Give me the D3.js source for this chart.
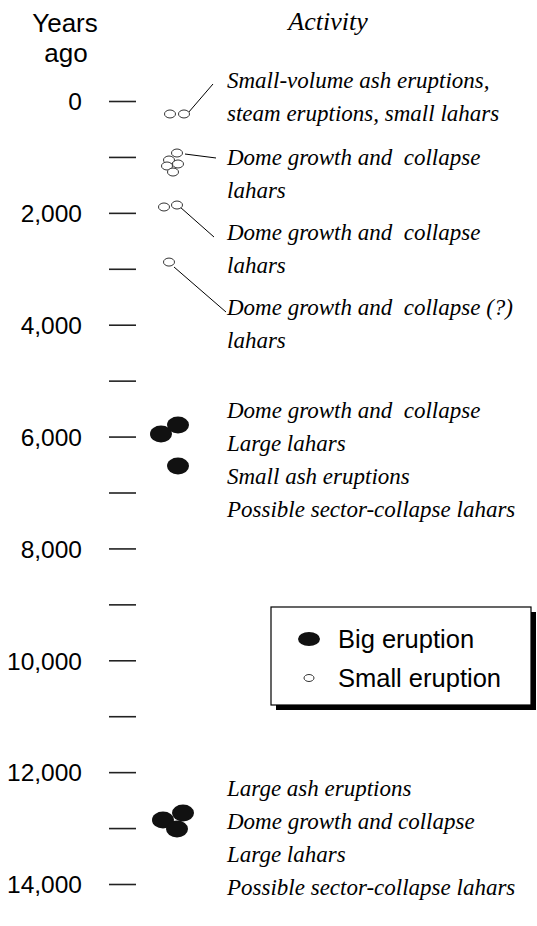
<!DOCTYPE html>
<html>
<head>
<meta charset="utf-8">
<script src="https://cdn.jsdelivr.net/npm/d3@7"></script>
<style>
  body { margin: 0; background: #fff; }
  .sans { font-family: "Liberation Sans", Arial, sans-serif; }
  .serif { font-family: "Liberation Serif", "DejaVu Serif", serif; font-style: italic; }
</style>
</head>
<body>
<svg id="chart"></svg>
<script>
// axis ticks (years ago)
const tickYears = d3.range(0, 14001, 1000);
const labelYears = [0, 2000, 4000, 6000, 8000, 10000, 12000, 14000];

// eruptions: years ago and lane within the cluster
const smallYears = [232, 232, 930, 1055, 1126, 1162, 1270, 1895, 1860, 2880];
const smallLanes = [10, 24, 17, 9, 18, 7, 13, 4, 17, 9];
const bigYears = [5954, 5793, 6526, 12855, 12730, 13016];
const bigLanes = [1, 18, 18, 3, 23, 17];

// activity notes: anchor year of first line + lines
const noteYears = [-232, 1144, 2485, 3826, 5668, 12426];
const noteLines = [
    ["Small-volume ash eruptions,", "steam eruptions, small lahars"],
    ["Dome growth and  collapse", "lahars"],
    ["Dome growth and  collapse", "lahars"],
    ["Dome growth and  collapse (?)", "lahars"],
    ["Dome growth and  collapse", "Large lahars", "Small ash eruptions", "Possible sector-collapse lahars"],
    ["Large ash eruptions", "Dome growth and collapse", "Large lahars", "Possible sector-collapse lahars"]
];

// leader lines: [fromYear, fromLane, toYear, toLane]
const leaders = [
    [215, 28, -304, 53],
    [948, 25, 1019, 56],
    [1895, 20, 2432, 54],
    [2968, 14, 3773, 66]
];

const legendItems = ["Big eruption", "Small eruption"];

const width = 537, height = 926;
const svg = d3.select("#chart").attr("width", width).attr("height", height);

const y = d3.scaleLinear().domain([0, 14000]).range([101, 884]);
const lane = d3.scaleLinear().domain([0, 70]).range([160, 230]);

// header
svg.append("text").attr("class", "sans").attr("x", 65).attr("y", 32)
   .attr("text-anchor", "middle").attr("font-size", 26).text("Years");
svg.append("text").attr("class", "sans").attr("x", 66).attr("y", 62)
   .attr("text-anchor", "middle").attr("font-size", 26).text("ago");
svg.append("text").attr("class", "serif").attr("x", 328).attr("y", 30)
   .attr("text-anchor", "middle").attr("font-size", 26).text("Activity");

// axis
const axis = d3.axisLeft(y)
    .tickValues(tickYears)
    .tickSize(27)
    .tickPadding(27)
    .tickFormat(d => labelYears.includes(d) ? d3.format(",")(d) : "");

const gAxis = svg.append("g").attr("transform", "translate(136,0)").call(axis);
gAxis.select(".domain").remove();
gAxis.selectAll(".tick line").attr("stroke", "#222").attr("stroke-width", 1.6);
gAxis.selectAll(".tick text")
     .attr("class", "sans")
     .attr("font-size", 24.5)
     .attr("fill", "#000")
     .attr("dy", "0.36em");

// leader lines
svg.selectAll("line.leader")
   .data(leaders)
   .enter()
   .append("line")
   .attr("class", "leader")
   .attr("x1", d => lane(d[1]))
   .attr("y1", d => y(d[0]))
   .attr("x2", d => lane(d[3]))
   .attr("y2", d => y(d[2]))
   .attr("stroke", "#000")
   .attr("stroke-width", 1);

// small eruptions
svg.selectAll("ellipse.small")
   .data(smallYears)
   .enter()
   .append("ellipse")
   .attr("class", "small")
   .attr("cx", (d, i) => lane(smallLanes[i]))
   .attr("cy", d => y(d))
   .attr("rx", 5.5)
   .attr("ry", 4)
   .attr("fill", "#fff")
   .attr("stroke", "#333")
   .attr("stroke-width", 1);

// big eruptions
svg.selectAll("ellipse.big")
   .data(bigYears)
   .enter()
   .append("ellipse")
   .attr("class", "big")
   .attr("cx", (d, i) => lane(bigLanes[i]))
   .attr("cy", d => y(d))
   .attr("rx", 11)
   .attr("ry", 8.5)
   .attr("fill", "#111");

// notes
const notes = svg.selectAll("text.note")
   .data(noteLines)
   .enter()
   .append("text")
   .attr("class", "note serif")
   .attr("font-size", 23)
   .attr("fill", "#000");

notes.each(function (lines, i) {
    d3.select(this).selectAll("tspan")
      .data(lines)
      .enter()
      .append("tspan")
      .attr("x", 227)
      .attr("y", (d, j) => y(noteYears[i]) + j * 33)
      .attr("xml:space", "preserve")
      .text(d => d);
});

// legend
const lg = svg.append("g").attr("transform", "translate(271,607)");
lg.append("rect").attr("x", 5).attr("y", 5).attr("width", 260).attr("height", 98).attr("fill", "#000");
lg.append("rect").attr("x", 0).attr("y", 0).attr("width", 260).attr("height", 98)
  .attr("fill", "#fff").attr("stroke", "#000").attr("stroke-width", 1.2);
lg.append("ellipse").attr("cx", 38).attr("cy", 32).attr("rx", 11).attr("ry", 7).attr("fill", "#111");
lg.append("ellipse").attr("cx", 38).attr("cy", 71).attr("rx", 5).attr("ry", 3.5)
  .attr("fill", "#fff").attr("stroke", "#333").attr("stroke-width", 1);
lg.selectAll("text.leg")
  .data(legendItems)
  .enter()
  .append("text")
  .attr("class", "leg sans")
  .attr("x", 67)
  .attr("y", (d, i) => 41 + i * 39)
  .attr("font-size", 25.5)
  .text(d => d);
</script>
</body>
</html>
